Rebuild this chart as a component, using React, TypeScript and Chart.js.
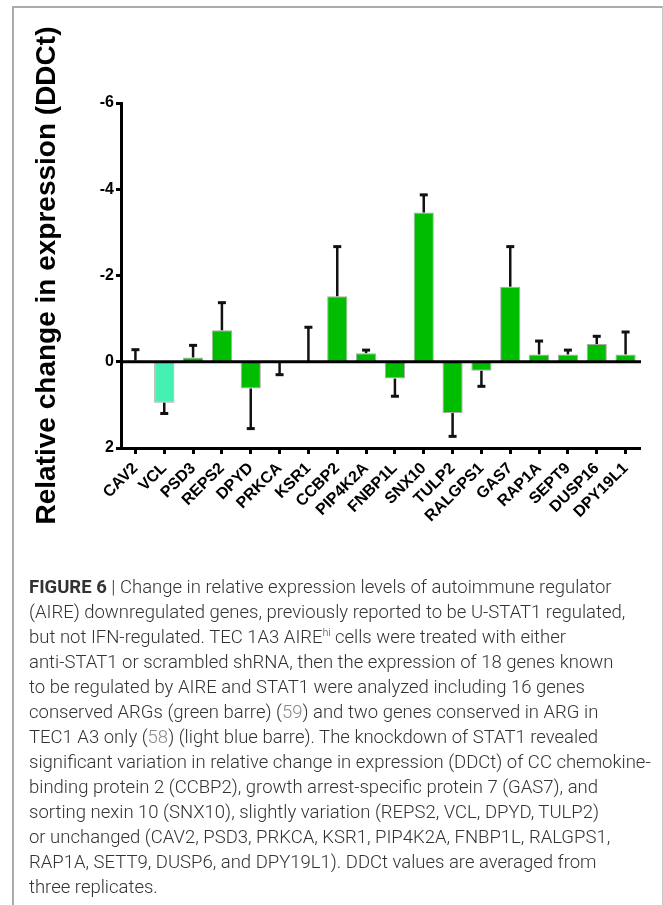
import React, { useEffect, useRef } from 'react';
import { Chart, registerables } from 'chart.js';

Chart.register(...registerables);

// ---- data ----
const genes = ['CAV2', 'VCL', 'PSD3', 'REPS2', 'DPYD', 'PRKCA', 'KSR1', 'CCBP2', 'PIP4K2A', 'FNBP1L', 'SNX10', 'TULP2', 'RALGPS1', 'GAS7', 'RAP1A', 'SEPT9', 'DUSP16', 'DPY19L1'];
const ddct = [-0.03, 0.95, -0.1, -0.73, 0.62, 0, 0, -1.52, -0.2, 0.39, -3.46, 1.19, 0.21, -1.74, -0.17, -0.17, -0.41, -0.17];
// signed error extent (drawn from the bar end, away from zero)
const errors = [-0.25, 0.25, -0.28, -0.64, 0.93, 0.3, -0.8, -1.15, -0.07, 0.41, -0.41, 0.54, 0.36, -0.93, -0.31, -0.1, -0.18, -0.52];
// 'arg' = conserved ARG (green), 'tec' = conserved in TEC1 A3 only (light blue)
const groups = ['arg', 'tec', 'arg', 'arg', 'arg', 'arg', 'arg', 'arg', 'arg', 'arg', 'arg', 'arg', 'arg', 'arg', 'arg', 'arg', 'arg', 'arg'];
const yMin = -6;
const yMax = 2;
const yStep = 2;
const yTitle = 'Relative change in expression (DDCt)';

const GREEN = '#00bd00';
const AQUA = '#44f0b2';

const captionLines: React.ReactNode[] = [
  <><b style={{ fontWeight: 700 }}>FIGURE 6</b> | Change in relative expression levels of autoimmune regulator</>,
  <>(AIRE) downregulated genes, previously reported to be U-STAT1 regulated,</>,
  <>but not IFN-regulated. TEC 1A3 AIRE<sup style={{ fontSize: '10px', verticalAlign: '7px', lineHeight: 0 }}>hi</sup> cells were treated with either</>,
  <>anti-STAT1 or scrambled shRNA, then the expression of 18 genes known</>,
  <>to be regulated by AIRE and STAT1 were analyzed including 16 genes</>,
  <>conserved ARGs (green barre) (<span style={{ color: '#8a8a8a' }}>59</span>) and two genes conserved in ARG in</>,
  <>TEC1 A3 only (<span style={{ color: '#8a8a8a' }}>58</span>) (light blue barre). The knockdown of STAT1 revealed</>,
  <>significant variation in relative change in expression (DDCt) of CC chemokine-</>,
  <>binding protein 2 (CCBP2), growth arrest-specific protein 7 (GAS7), and</>,
  <>sorting nexin 10 (SNX10), slightly variation (REPS2, VCL, DPYD, TULP2)</>,
  <>or unchanged (CAV2, PSD3, PRKCA, KSR1, PIP4K2A, FNBP1L, RALGPS1,</>,
  <>RAP1A, SETT9, DUSP6, and DPY19L1). DDCt values are averaged from</>,
  <>three replicates.</>,
];

const CANVAS_W = 663;
const CANVAS_H = 560;

const errorBarPlugin = {
  id: 'errorBarsAndZero',
  afterDatasetsDraw(chart: any) {
    const { ctx, chartArea, scales } = chart;
    const y = scales.y;
    const meta = chart.getDatasetMeta(0);
    ctx.save();
    ctx.strokeStyle = '#111';
    meta.data.forEach((bar: any, i: number) => {
      const px = bar.x;
      const y0 = y.getPixelForValue(ddct[i]);
      const y1 = y.getPixelForValue(ddct[i] + errors[i]);
      ctx.lineWidth = 2.5;
      ctx.beginPath();
      ctx.moveTo(px, y0);
      ctx.lineTo(px, y1);
      ctx.stroke();
      ctx.lineWidth = 3;
      ctx.beginPath();
      ctx.moveTo(px - 4, y1);
      ctx.lineTo(px + 4, y1);
      ctx.stroke();
    });
    // zero line
    const z = y.getPixelForValue(0);
    ctx.strokeStyle = '#000';
    ctx.lineWidth = 3;
    ctx.beginPath();
    ctx.moveTo(chartArea.left, z);
    ctx.lineTo(chartArea.right + 1, z);
    ctx.stroke();
    ctx.restore();
  },
};

function ChartView() {
  const ref = useRef<HTMLCanvasElement | null>(null);
  useEffect(() => {
    if (!ref.current) return;
    const chart = new Chart(ref.current, {
      type: 'bar',
      data: {
        labels: genes,
        datasets: [
          {
            data: ddct,
            backgroundColor: groups.map((g) => (g === 'tec' ? AQUA : GREEN)),
            borderColor: 'rgba(90,110,90,0.55)',
            borderWidth: 1,
            barPercentage: 0.7,
            categoryPercentage: 1,
          },
        ],
      },
      options: {
        responsive: false,
        animation: false,
        devicePixelRatio: 1,
        layout: { padding: { left: 0, top: 103, right: 23, bottom: 0 } },
        plugins: { legend: { display: false }, tooltip: { enabled: false } },
        scales: {
          x: {
            offset: true,
            grid: { display: true, drawOnChartArea: false, offset: false, tickLength: 6, tickWidth: 3, tickColor: '#000' },
            border: { display: true, width: 3, color: '#000' },
            ticks: {
              autoSkip: false,
              maxRotation: 45,
              minRotation: 45,
              padding: 5,
              color: '#000',
              font: { family: 'Liberation Sans, Arial, sans-serif', size: 16, weight: 'bold' },
            },
            afterFit: (s: any) => {
              s.height = CANVAS_H - 448;
            },
          },
          y: {
            reverse: true,
            min: yMin,
            max: yMax,
            grid: { display: true, drawOnChartArea: false, tickLength: 5, tickWidth: 3, tickColor: '#000' },
            border: { display: true, width: 3, color: '#000' },
            ticks: {
              stepSize: yStep,
              padding: 2,
              color: '#000',
              font: { family: 'Liberation Sans, Arial, sans-serif', size: 16, weight: 'bold' },
            },
            title: {
              display: true,
              text: yTitle,
              color: '#000',
              padding: { top: 30, bottom: 0 },
              font: { family: 'Liberation Sans, Arial, sans-serif', size: 28, weight: 'bold' },
            },
            afterFit: (s: any) => {
              s.width = 121;
            },
          },
        },
      },
      plugins: [errorBarPlugin],
    } as any);
    return () => chart.destroy();
  }, []);
  return (
    <canvas
      ref={ref}
      width={CANVAS_W}
      height={CANVAS_H}
      style={{ position: 'absolute', left: 0, top: 0, width: CANVAS_W, height: CANVAS_H }}
    />
  );
}

export default function App() {
  return (
    <div style={{ position: 'relative' }}>
      <div
        style={{
          position: 'fixed',
          left: 12,
          top: 6,
          width: 651,
          height: 899,
          boxSizing: 'border-box',
          borderTop: '2px solid #ababab',
          borderLeft: '2px solid #ababab',
          borderRight: '1px solid #c8c8c8',
        }}
      />
      <div style={{ position: 'fixed', left: 0, top: 0 }}>
        <ChartView />
      </div>
      <div
        style={{
          position: 'fixed',
          left: 29,
          top: 575,
          fontFamily: 'Roboto, "Liberation Sans", Arial, sans-serif',
          fontWeight: 300,
          fontSize: '18.5px',
          lineHeight: '25px',
          color: '#333',
          whiteSpace: 'nowrap',
        }}
      >
        {captionLines.map((l, i) => (
          <div key={i}>{l}</div>
        ))}
      </div>
    </div>
  );
}
